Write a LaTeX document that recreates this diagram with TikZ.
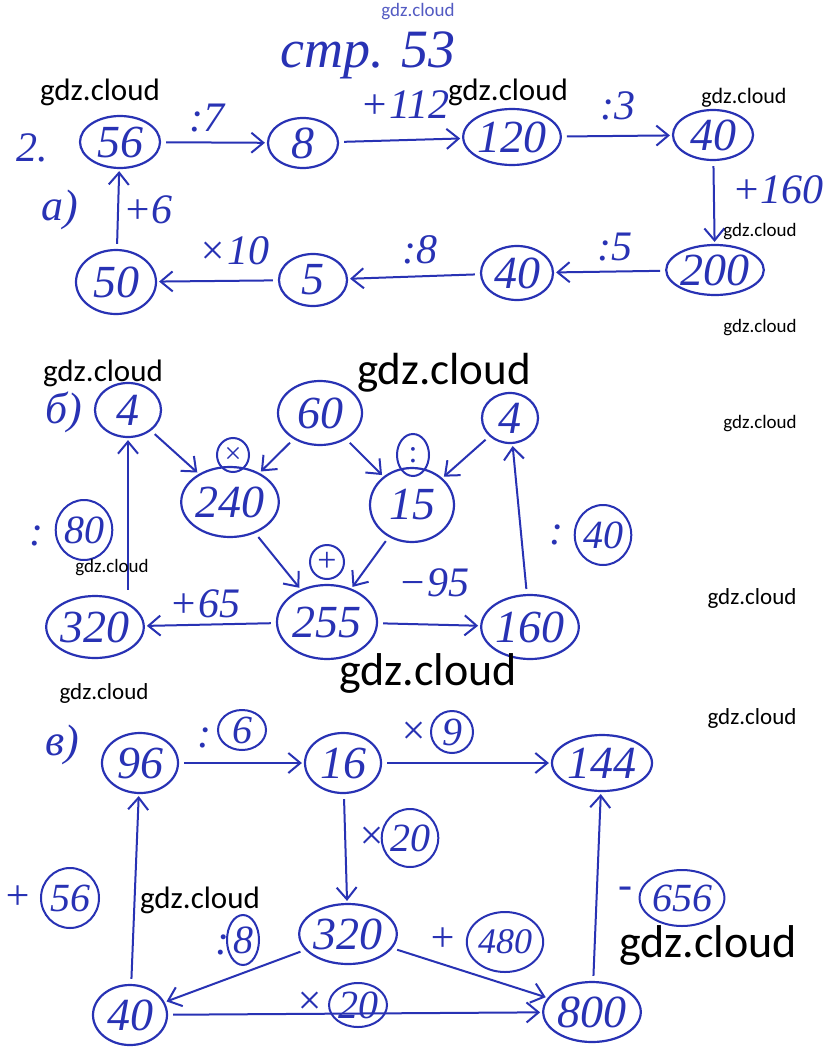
\documentclass[tikz,border=0pt]{standalone}
\usepackage{fontspec}
\usetikzlibrary{shapes.geometric,arrows.meta}
\newfontfamily\handf{Liberation Serif}
\newfontfamily\wmf{Carlito}
\definecolor{ink}{RGB}{40,50,180}
\tikzset{
  nd/.style 2 args={ellipse, draw=ink, line width=2.2pt, inner sep=0pt, text=ink,
    minimum width=#1, minimum height=#2, font=\handf\itshape\fontsize{46}{46}\selectfont},
  op/.style={text=ink, inner sep=0pt, font=\handf\itshape\fontsize{42}{42}\selectfont},
  cop/.style 2 args={ellipse, draw=ink, line width=2pt, inner sep=0pt, text=ink,
    minimum width=#1, minimum height=#2, font=\handf\itshape\fontsize{40}{40}\selectfont},
  arr/.style={draw=ink, line width=2pt, -{Straight Barb[length=12pt,width=20pt,line width=2pt]},
    shorten >=2pt, shorten <=5pt},
  wm/.style={text=black, inner sep=0pt, font=\wmf\fontsize{#1}{#1}\selectfont},
}
\begin{document}
\begin{tikzpicture}[x=1pt,y=-1pt]
\useasboundingbox[fill=white] (0,0) rectangle (836,1062);
% header
\node[text=ink!80, inner sep=0pt, font=\wmf\fontsize{19}{19}\selectfont] (wtop) at (418,12) {gdz.cloud};
\node[op, font=\handf\itshape\fontsize{54}{54}\selectfont] (title) at (368,55) {стр. 53};
\node[op, font=\handf\itshape\fontsize{42}{42}\selectfont] (two) at (32,148) {2.};
\node[op, font=\handf\itshape\fontsize{44}{44}\selectfont] (la) at (60,210) {а)};
% ---- a)
\node[nd={80pt}{52pt}] (a56) at (120,142) {56};
\node[nd={70pt}{50pt}] (a8) at (303,143) {8};
\node[nd={80pt}{56pt}] (a120) at (512,137) {120};
\node[nd={80pt}{50pt}] (a40t) at (713,135) {40};
\node[nd={92pt}{50pt}] (a200) at (715,270) {200};
\node[nd={72pt}{54pt}] (a40b) at (517,273) {40};
\node[nd={68pt}{52pt}] (a5) at (313,280) {5};
\node[nd={80pt}{64pt}] (a50) at (116,282) {50};
\draw[arr] (a56) -- (a8);
\draw[arr] (a8) -- (a120);
\draw[arr] (a120) -- (a40t);
\draw[arr] (a40t) -- (a200);
\draw[arr] (a200) -- (a40b);
\draw[arr] (a40b) -- (a5);
\draw[arr] (a5) -- (a50);
\draw[arr] (a50) -- (a56);
\node[op] (o7) at (207,118) {:7};
\node[op] (o112) at (405,105) {+112};
\node[op] (o3) at (618,106) {:3};
\node[op] (o160) at (778,190) {+160};
\node[op] (o5) at (615,247) {:5};
\node[op] (o8) at (420,250) {:8};
\node[op] (o10) at (234,251) {×10};
\node[op] (o6) at (148,210) {+6};
% ---- б)
\node[op, font=\handf\itshape\fontsize{44}{44}\selectfont] (lb) at (64,412) {б)};
\node[nd={66pt}{54pt}] (b4l) at (128,410) {4};
\node[nd={84pt}{64pt}] (b60) at (320,413) {60};
\node[nd={56pt}{50pt}] (b4r) at (510,418) {4};
\node[nd={96pt}{70pt}] (b240) at (230,502) {240};
\node[nd={84pt}{74pt}] (b15) at (412,505) {15};
\node[nd={100pt}{74pt}] (b255) at (327,622) {255};
\node[nd={84pt}{62pt}] (b320) at (95,627) {320};
\node[nd={74pt}{64pt}] (b160) at (530,627) {160};
\draw[arr] (b4l) -- (b240);
\draw[arr] (b60) -- (b240);
\draw[arr] (b60) -- (b15);
\draw[arr] (b4r) -- (b15);
\draw[arr] (b240) -- (b255);
\draw[arr] (b15) -- (b255);
\draw[arr] (b255) -- (b320);
\draw[arr] (b255) -- (b160);
\draw[arr] (b4l.south |- b320.north) -- (b4l);
\draw[arr] (b160) -- (b4r);
\node[cop={32pt}{34pt}, font=\handf\fontsize{30}{30}\selectfont] (cx) at (233,455) {×};
\node[cop={32pt}{42pt}, font=\handf\fontsize{32}{32}\selectfont] (cd) at (413,455) {:};
\node[cop={34pt}{34pt}, font=\handf\fontsize{34}{34}\selectfont] (cp) at (327,562) {+};
\node[op] (c80d) at (36,536) {:};
\node[cop={50pt}{60pt}] (c80) at (84,530) {80};
\node[op] (c40d) at (556,535) {:};
\node[cop={48pt}{60pt}] (c40) at (603,535) {40};
\node[op] (o65) at (205,604) {+65};
\node[op] (o95) at (434,583) {−95};
% ---- в)
\node[op, font=\handf\itshape\fontsize{44}{44}\selectfont] (lv) at (62,745) {в)};
\node[nd={76pt}{60pt}] (v96) at (140,763) {96};
\node[nd={76pt}{60pt}] (v16) at (343,763) {16};
\node[nd={100pt}{56pt}] (v144) at (602,763) {144};
\node[nd={96pt}{60pt}] (v320) at (348,934) {320};
\node[nd={74pt}{60pt}] (v40) at (130,1015) {40};
\node[nd={92pt}{60pt}] (v800) at (592,1012) {800};
\draw[arr] (v96) -- (v16);
\draw[arr] (v16) -- (v144);
\draw[arr] (v16) -- (v320);
\draw[arr] (v320) -- (v40);
\draw[arr] (v320) -- (v800);
\draw[arr] (v40) -- (v800);
\draw[arr] (v40) -- (v96);
\draw[arr] (v800) -- (v144);
\node[op] (d6) at (204,738) {:};
\node[cop={48pt}{40pt}] (c6) at (242,730) {6};
\node[op] (x9) at (414,733) {×};
\node[cop={42pt}{42pt}] (c9) at (452,732) {9};
\node[op] (x20a) at (372,838) {×};
\node[cop={50pt}{58pt}] (c20a) at (410,838) {20};
\node[op] (p56) at (18,898) {+};
\node[cop={58pt}{60pt}] (c56) at (70,898) {56};
\node[op] (d8) at (222,945) {:};
\node[cop={32pt}{50pt}] (c8) at (243,940) {8};
\node[op] (p480) at (443,940) {+};
\node[cop={68pt}{60pt}, font=\handf\itshape\fontsize{36}{36}\selectfont] (c480) at (505,942) {480};
\node[op] (x20b) at (310,1003) {×};
\node[cop={58pt}{44pt}] (c20b) at (358,1005) {20};
\node[op] (m656) at (625,893) {-};
\node[cop={80pt}{56pt}] (c656) at (682,898) {656};
% watermarks
\node[wm=31] (w1) at (100,92) {gdz.cloud};
\node[wm=31] (w2) at (508,92) {gdz.cloud};
\node[wm=22] (w3) at (744,98) {gdz.cloud};
\node[wm=19] (w4) at (760,232) {gdz.cloud};
\node[wm=19] (w5) at (760,328) {gdz.cloud};
\node[wm=31] (w6) at (103,373) {gdz.cloud};
\node[wm=45] (w7) at (444,373) {gdz.cloud};
\node[wm=19] (w8) at (760,424) {gdz.cloud};
\node[wm=19] (w9) at (112,568) {gdz.cloud};
\node[wm=23] (w10) at (752,598) {gdz.cloud};
\node[wm=46] (w11) at (428,673) {gdz.cloud};
\node[wm=23] (w12) at (104,693) {gdz.cloud};
\node[wm=23] (w13) at (752,718) {gdz.cloud};
\node[wm=31] (w14) at (200,900) {gdz.cloud};
\node[wm=46] (w15) at (708,945) {gdz.cloud};
\end{tikzpicture}
\end{document}
